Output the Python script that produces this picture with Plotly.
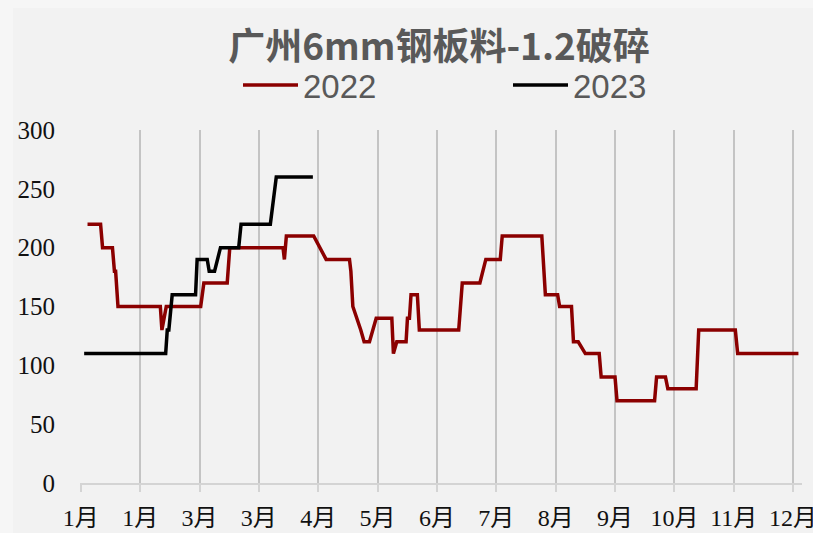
import plotly.graph_objects as go

# ---- data (day index within year, value) ----
days_2022 = [3.4, 10, 11, 16, 17, 17.6, 18.8, 40.2, 41, 43.2, 60.6, 62.2, 74, 75.3,
             102.2, 102.9, 103.9, 117.7, 124, 135.8, 136.5, 137.5, 141.5, 143.2, 145.9,
             149.3, 157.2, 158, 159.7, 164.4, 165.1, 166.1, 166.9, 170.1, 171.1, 191,
             192.8, 201.7, 204.7, 212, 213, 233, 234.8, 241, 242, 248, 249, 251.4, 255,
             262, 263, 270, 271, 290, 291, 295.5, 296.7, 311, 312.3, 330.8, 332, 362.7]
vals_2022 = [220, 220, 200, 200, 180, 180, 150, 150, 130, 150, 150, 170, 170, 200,
             200, 190, 210, 210, 190, 190, 180, 150, 130, 120, 120,
             140, 140, 110, 120, 120, 140, 140, 160, 160, 130, 130,
             170, 170, 190, 190, 210, 210, 160, 160, 150, 150, 120, 120, 110,
             110, 90, 90, 70, 70, 90, 90, 80, 80, 130, 130, 110, 110]

days_2023 = [1.7, 42.9, 43.7, 44.5, 46.2, 58, 58.8, 63.9, 64.9, 67.6, 70.6, 79.8, 81,
             95.8, 98.8, 117.3]
vals_2023 = [110, 110, 130, 130, 160, 160, 190, 190, 180, 180, 200, 200, 220,
             220, 260, 260]

tick_days = [0, 30, 60, 90, 120, 150, 180, 210, 240, 270, 300, 330, 360]
tick_labels = ["1月", "1月", "3月", "3月", "4月", "5月", "6月", "7月", "8月",
               "9月", "10月", "11月", "12月"]

title_text = "广州6mm钢板料-1.2破碎"

fig = go.Figure()
fig.add_trace(go.Scatter(x=days_2022, y=vals_2022, mode="lines", name="2022",
                         line=dict(color="#8B0000", width=3.5)))
fig.add_trace(go.Scatter(x=days_2023, y=vals_2023, mode="lines", name="2023",
                         line=dict(color="#000000", width=3.5)))

L, R, T, B = 80, 11, 130, 50
W, H = 813, 533
pw = W - L - R
ph = H - T - B

fig.update_layout(
    width=W, height=H,
    margin=dict(l=L, r=R, t=T, b=B, pad=0, autoexpand=False),
    paper_bgcolor="#f6f6f6",
    plot_bgcolor="#f2f2f2",
    title=dict(text="<b>" + title_text + "</b>", x=(225 + 653) / 2 / W, xanchor="center",
               y=1 - 47 / H, yanchor="middle", yref="container",
               font=dict(family="Noto Sans CJK SC", size=37, color="#595959")),
    legend=dict(orientation="h", x=(238 - L) / pw, xanchor="left",
                y=1 + (T - 85) / ph, yanchor="middle",
                font=dict(family="Liberation Sans", size=33, color="#595959"),
                itemwidth=55, entrywidth=200, bgcolor="rgba(0,0,0,0)"),
    shapes=[dict(type="rect", xref="paper", yref="paper",
                 x0=(13 - L) / pw, x1=(W - L) / pw + 0.01,
                 y0=-(B) / ph - 0.01, y1=1 + (T - 8) / ph,
                 fillcolor="#f2f2f2", line=dict(width=0), layer="below")],
    showlegend=True,
)

fig.update_xaxes(range=[-0.4, 364.5], tickmode="array", tickvals=tick_days, ticktext=tick_labels,
                 automargin=False, ticklabeloverflow="allow", ticklabelstandoff=5,
                 showgrid=True, gridcolor="#c4c4c4", gridwidth=1.5,
                 showline=True, linecolor="#d4d4d4", linewidth=1.5,
                 ticks="outside", ticklen=7, tickcolor="#d4d4d4", tickwidth=1.5,
                 zeroline=False,
                 tickfont=dict(family="Liberation Serif, Noto Sans CJK SC", size=24, color="#111111"))
fig.update_yaxes(range=[0, 300], dtick=50, tick0=0, showgrid=False, zeroline=False,
                 automargin=False,
                 showline=False, ticks="", ticklabelstandoff=24,
                 tickfont=dict(family="Liberation Serif", size=25, color="#111111"))

fig.write_html("out.html", config={"displayModeBar": False},
               post_script="document.body.style.margin='0px';")
